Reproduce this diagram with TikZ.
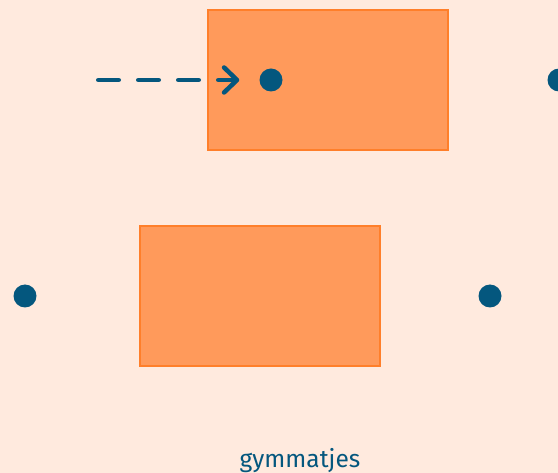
\documentclass[tikz,border=0pt]{standalone}
\usepackage{fontspec}
\setmainfont{Fira Sans}
\usetikzlibrary{arrows.meta}
\definecolor{bg}{HTML}{FFEADE}
\definecolor{boxfill}{HTML}{FF9A5B}
\definecolor{boxline}{HTML}{FF7F2A}
\definecolor{ink}{HTML}{04577E}
\tikzset{
  box/.style={draw=boxline, line width=1.2pt, fill=boxfill, minimum width=240pt, minimum height=140pt, inner sep=0pt},
  dot/.style={circle, fill=ink, minimum size=23pt, inner sep=0pt},
  dasharrow/.style={draw=ink, line width=4.5pt, line cap=round, dash pattern=on 20.5pt off 19.5pt,
    -{Straight Barb[length=13pt, width=25pt, line cap=round, line join=round]}},
  label/.style={text=ink, font=\fontsize{24.5}{28}\selectfont}
}
\begin{document}
\begin{tikzpicture}[x=1pt, y=-1pt]
\path[fill=bg, use as bounding box] (0,0) rectangle (558,473);
\node[box] (top) at (328,80) {};
\node[box] (bottom) at (260,296) {};
\node[dot] (d1) at (271,80) {};
\node[dot] (d2) at (559,80) {};
\node[dot] (d3) at (25,296) {};
\node[dot] (d4) at (490,296) {};
\coordinate (s) at (98.25,80);
\draw[dasharrow] (s) -- ([xshift=-20pt]d1.west);
\node[label, anchor=base] (t) at (300,468) {gymmatjes};
\end{tikzpicture}
\end{document}
